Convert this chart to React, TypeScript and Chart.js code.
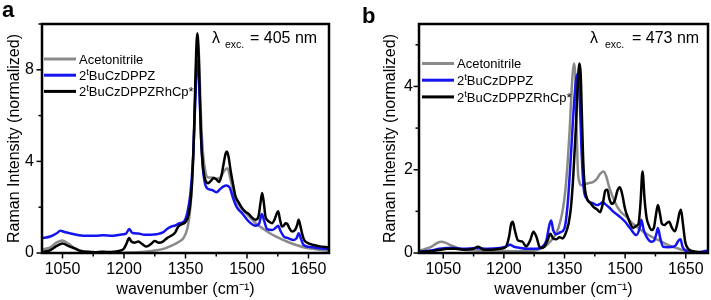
import React, { useEffect, useRef } from 'react';
import { Chart, registerables } from 'chart.js';

Chart.register(...registerables);

const FONT = "'Liberation Sans', Arial, Helvetica, sans-serif";

// ---------- axis ticks ----------
const X_MAJOR = [1050, 1200, 1350, 1500, 1650];
const X_MINOR = [1125, 1275, 1425, 1575];
const Y_TICKS_A = [0, 2, 4, 6, 8, 10];
const Y_LABELS_A = [0, 4, 8];
const Y_TICKS_B = [0, 1, 2, 3, 4, 5];
const Y_LABELS_B = [0, 2, 4];

// ---------- series names ----------
const NAMES = ['Acetonitrile', '2ᵗBuCzDPPZ', '2ᵗBuCzDPPZRhCp*'];
const COLORS = ['#8a8a8a', '#1414f0', '#000000'];

// ---------- panel a (405 nm) ----------
const A_GRAY_X = [1000,1020,1035,1050,1065,1080,1100,1130,1170,1210,1250,1280,1300,1320,1335,1345,1355,1362,1368,1373,1377,1380,1383,1387,1392,1398,1405,1415,1425,1435,1445,1452,1460,1470,1480,1490,1500,1520,1540,1560,1580,1600,1620,1640,1660,1680,1700];
const A_GRAY_Y = [0.15,0.25,0.45,0.55,0.4,0.2,0.08,0.02,0.0,0.02,0.06,0.12,0.2,0.35,0.5,0.65,1.1,2.0,3.8,6.5,8.6,9.2,8.6,6.3,4.5,3.6,3.3,3.3,3.25,3.3,3.6,3.7,3.2,2.45,2.1,1.88,1.7,1.32,1.05,0.82,0.64,0.48,0.35,0.24,0.18,0.13,0.1];

const A_BLUE_X = [1000,1020,1035,1045,1055,1070,1090,1110,1130,1150,1170,1190,1205,1213,1220,1235,1250,1265,1280,1295,1305,1315,1325,1335,1345,1355,1362,1368,1373,1377,1380,1383,1387,1392,1398,1405,1415,1425,1435,1442,1450,1458,1466,1475,1488,1504,1521,1530,1536,1542,1549,1561,1570,1576,1582,1590,1600,1614,1621,1626,1632,1638,1659,1683,1700];
const A_BLUE_Y = [0.65,0.72,0.85,0.97,0.92,0.85,0.78,0.75,0.75,0.78,0.75,0.8,0.85,1.05,0.88,0.85,0.8,0.8,0.82,0.9,1.05,1.15,1.2,1.3,1.35,1.8,2.6,4.0,6.2,7.9,8.4,7.6,5.5,3.8,3.0,2.8,2.75,2.65,2.8,2.9,2.95,2.85,2.4,2.0,1.74,1.38,1.19,1.3,1.7,1.4,1.04,1.0,1.1,1.19,0.95,0.72,0.65,0.57,0.65,0.86,0.6,0.35,0.25,0.2,0.18];

const A_BLACK_X = [1000,1020,1035,1050,1065,1080,1095,1110,1130,1145,1160,1175,1190,1200,1207,1212,1218,1225,1235,1245,1255,1265,1275,1285,1295,1305,1315,1325,1332,1340,1350,1358,1365,1370,1374,1377,1379,1381,1384,1388,1393,1398,1405,1412,1419,1426,1432,1438,1443,1448,1451,1455,1460,1466,1472,1480,1488,1496,1504,1512,1521,1528,1533,1537,1541,1545,1549,1555,1561,1567,1572,1576,1580,1585,1590,1594,1598,1603,1610,1617,1622,1626,1630,1635,1640,1650,1662,1675,1700];
const A_BLACK_Y = [0.05,0.12,0.3,0.42,0.3,0.2,0.08,0.05,0.03,0.06,0.04,0.05,0.1,0.2,0.45,0.65,0.5,0.45,0.5,0.38,0.28,0.38,0.52,0.45,0.5,0.65,0.75,0.9,1.15,1.25,1.35,1.7,2.8,4.8,7.5,9.2,9.6,9.2,7.5,5.0,3.7,3.2,3.05,3.15,3.28,3.2,3.1,3.4,3.9,4.35,4.43,4.2,3.6,3.0,2.47,2.2,1.96,1.8,1.71,1.55,1.45,1.6,2.2,2.62,2.2,1.6,1.45,1.35,1.3,1.45,1.7,1.82,1.5,1.16,1.2,1.3,1.28,1.1,0.94,1.0,1.2,1.45,1.2,0.8,0.55,0.42,0.35,0.3,0.25];

// ---------- panel b (473 nm) ----------
const B_GRAY_X = [990,1000,1020,1035,1045,1055,1070,1085,1100,1130,1160,1200,1240,1270,1290,1305,1315,1325,1335,1345,1352,1358,1363,1367,1371,1374,1377,1380,1383,1387,1392,1400,1410,1420,1430,1438,1446,1453,1460,1470,1480,1490,1503,1515,1530,1545,1560,1575,1586,1600,1615,1627,1640,1660,1680,1705];
const B_GRAY_Y = [0.05,0.08,0.15,0.24,0.27,0.25,0.18,0.12,0.08,0.06,0.05,0.05,0.04,0.05,0.1,0.18,0.28,0.4,0.6,1.0,1.5,2.2,3.0,3.8,4.4,4.55,4.2,3.0,2.0,1.7,1.63,1.65,1.68,1.7,1.78,1.9,1.96,1.85,1.6,1.33,1.12,0.98,0.87,0.74,0.62,0.51,0.42,0.34,0.29,0.22,0.16,0.12,0.08,0.05,0.03,0.03];

const B_BLUE_X = [990,1000,1020,1040,1060,1080,1100,1130,1160,1190,1205,1215,1225,1240,1260,1280,1295,1305,1312,1317,1322,1330,1340,1350,1358,1365,1371,1376,1380,1384,1388,1392,1397,1405,1413,1420,1430,1438,1444,1450,1462,1470,1487,1500,1512,1528,1536,1540,1546,1553,1565,1572,1577,1581,1587,1594,1605,1619,1626,1632,1637,1642,1651,1665,1684,1695,1705];
const B_BLUE_Y = [0.03,0.04,0.06,0.1,0.12,0.12,0.1,0.12,0.1,0.12,0.15,0.2,0.15,0.12,0.1,0.1,0.15,0.3,0.65,0.78,0.55,0.45,0.5,0.6,1.2,2.2,3.2,3.9,4.25,4.3,3.6,2.5,1.6,1.3,1.22,1.2,1.15,1.18,1.22,1.18,1.08,1.0,0.87,0.75,0.6,0.43,0.6,0.8,0.55,0.39,0.27,0.3,0.45,0.6,0.35,0.15,0.14,0.15,0.2,0.3,0.33,0.15,0.05,0.02,0.02,0.04,0.06];

const B_BLACK_X = [990,1000,1020,1040,1060,1080,1100,1120,1137,1150,1170,1190,1205,1213,1218,1222,1227,1235,1245,1255,1265,1273,1280,1290,1300,1308,1315,1322,1330,1338,1345,1352,1360,1366,1372,1378,1383,1387,1390,1393,1396,1400,1406,1414,1422,1430,1438,1445,1451,1456,1461,1467,1474,1481,1487,1493,1500,1507,1514,1520,1527,1533,1538,1543,1548,1553,1558,1565,1571,1576,1581,1586,1591,1597,1603,1609,1615,1623,1630,1634,1638,1643,1649,1656,1665,1680,1705];
const B_BLACK_Y = [0.02,0.03,0.05,0.07,0.1,0.1,0.08,0.09,0.15,0.08,0.08,0.1,0.15,0.4,0.7,0.75,0.55,0.3,0.28,0.16,0.3,0.51,0.4,0.12,0.15,0.3,0.46,0.35,0.33,0.38,0.35,0.45,0.7,1.1,1.9,3.0,4.1,4.55,4.3,3.3,2.3,1.6,1.3,1.2,1.1,1.05,0.98,1.2,1.5,1.52,1.3,1.18,1.25,1.5,1.58,1.4,1.05,0.85,0.68,0.6,0.65,0.7,1.2,1.96,1.3,0.85,0.68,0.55,0.6,0.9,1.15,0.95,0.7,0.67,0.72,0.75,0.62,0.52,0.75,0.95,1.04,0.7,0.25,0.1,0.05,0.02,0.0];

const pts = (xs: number[], ys: number[]) => xs.map((x, i) => ({ x, y: ys[i] }));

type PanelDef = {
  letter: string; letterX: number; letterY: number;
  exc: number; excDx: number; excGap: number; excGap2: number;
  xMin: number; xMax: number; yMax: number;
  yTicks: number[]; yLabels: number[];
  data: { x: number[]; y: number[] }[];
  yAxisWidth: number; padRight: number; yTitlePad: number; yTickPad: number;
  legX: number; legY: number; legStep: number;
};

const PANEL_A: PanelDef = {
  letter: 'a', letterX: 2, letterY: 17,
  exc: 405, excDx: 117, excGap: 13, excGap2: 38,
  xMin: 1000, xMax: 1700, yMax: 10,
  yTicks: Y_TICKS_A, yLabels: Y_LABELS_A,
  data: [{ x: A_GRAY_X, y: A_GRAY_Y }, { x: A_BLUE_X, y: A_BLUE_Y }, { x: A_BLACK_X, y: A_BLACK_Y }],
  yAxisWidth: 42, padRight: 26, yTitlePad: 5, yTickPad: 8,
  legX: 2, legY: 35, legStep: 16.2,
};

const PANEL_B: PanelDef = {
  letter: 'b', letterX: 7, letterY: 23,
  exc: 473, excDx: 118, excGap: 15, excGap2: 42,
  xMin: 990, xMax: 1705, yMax: 5.5,
  yTicks: Y_TICKS_B, yLabels: Y_LABELS_B,
  data: [{ x: B_GRAY_X, y: B_GRAY_Y }, { x: B_BLUE_X, y: B_BLUE_Y }, { x: B_BLACK_X, y: B_BLACK_Y }],
  yAxisWidth: 64, padRight: 3, yTitlePad: 26, yTickPad: 6,
  legX: 3, legY: 39.5, legStep: 16.7,
};

function drawName(ctx: CanvasRenderingContext2D, name: string, x: number, y: number, size: number) {
  // renders the modifier letter ᵗ as a raised small t
  const parts = name.split('ᵗ');
  let cx = x;
  parts.forEach((p, i) => {
    if (i > 0) {
      ctx.font = `${size * 0.72}px ${FONT}`;
      ctx.fillText('t', cx, y - size * 0.38);
      cx += ctx.measureText('t').width;
    }
    ctx.font = `${size}px ${FONT}`;
    ctx.fillText(p, cx, y);
    cx += ctx.measureText(p).width;
  });
}

const decorPlugin = {
  id: 'decor',
  afterDraw(chart: any, _args: any, opts: any) {
    const p: PanelDef = opts.panel;
    if (!p) return;
    const ctx: CanvasRenderingContext2D = chart.ctx;
    const a = chart.chartArea;
    const xs = chart.scales.x;
    const ys = chart.scales.y;
    ctx.save();
    ctx.strokeStyle = '#000';
    ctx.fillStyle = '#000';
    ctx.lineWidth = 1.5;
    const xt = [...X_MAJOR, ...X_MINOR];
    for (const v of xt) {
      const px = xs.getPixelForValue(v);
      const len = X_MAJOR.includes(v) ? 5.5 : 3.5;
      ctx.beginPath();
      ctx.moveTo(px, a.bottom);
      ctx.lineTo(px, a.bottom + len);
      ctx.stroke();
    }
    for (const v of p.yTicks) {
      const py = ys.getPixelForValue(v);
      const len = p.yLabels.includes(v) ? 5.5 : 3.5;
      ctx.beginPath();
      ctx.moveTo(a.left, py);
      ctx.lineTo(a.left - len, py);
      ctx.stroke();
    }
    // frame
    ctx.lineWidth = 2.5;
    ctx.strokeRect(a.left, a.top, a.right - a.left, a.bottom - a.top);

    // legend
    const lsize = 13;
    NAMES.forEach((name, i) => {
      const y = a.top + p.legY + i * p.legStep;
      ctx.strokeStyle = COLORS[i];
      ctx.lineWidth = 3;
      ctx.beginPath();
      ctx.moveTo(a.left + p.legX, y);
      ctx.lineTo(a.left + p.legX + 32, y);
      ctx.stroke();
      ctx.fillStyle = '#000';
      ctx.textBaseline = 'alphabetic';
      ctx.textAlign = 'left';
      drawName(ctx, name, a.left + p.legX + 35, y + 4.8, lsize);
    });

    // excitation annotation
    const lx = a.right - p.excDx;
    const by = a.top + 19;
    ctx.fillStyle = '#000';
    ctx.font = `16px ${FONT}`;
    ctx.fillText('λ', lx, by);
    ctx.font = `10.5px ${FONT}`;
    ctx.fillText('exc.', lx + p.excGap, by + 4.5);
    ctx.font = `16px ${FONT}`;
    ctx.fillText(`= ${p.exc} nm`, lx + p.excGap2, by);

    // panel letter
    ctx.font = `bold 22px ${FONT}`;
    ctx.fillText(p.letter, p.letterX, p.letterY);
    ctx.restore();
  },
};

function buildConfig(p: PanelDef): any {
  const font = { family: FONT, size: 16 };
  const titleFont = { family: FONT, size: 16 };
  return {
    type: 'line',
    data: {
      datasets: p.data.map((d, i) => ({
        label: NAMES[i],
        data: pts(d.x, d.y),
        borderColor: COLORS[i],
        backgroundColor: COLORS[i],
        borderWidth: 2.5,
        pointRadius: 0,
        fill: false,
        cubicInterpolationMode: 'monotone',
        order: 2 - i,
      })),
    },
    options: {
      animation: false,
      responsive: false,
      maintainAspectRatio: false,
      events: [],
      layout: { padding: { top: 24, right: p.padRight, left: 0, bottom: 0 } },
      plugins: {
        legend: { display: false },
        tooltip: { enabled: false },
        decor: { panel: p },
      },
      scales: {
        x: {
          type: 'linear',
          min: p.xMin,
          max: p.xMax,
          afterBuildTicks: (s: any) => { s.ticks = [...X_MAJOR, ...X_MINOR].sort((m, n) => m - n).map((v) => ({ value: v })); },
          afterFit: (s: any) => { s.height = 47; },
          grid: { display: false, drawTicks: false },
          border: { display: false },
          ticks: {
            autoSkip: false, maxRotation: 0, padding: 7, color: '#000', font,
            callback: (v: number) => (X_MAJOR.includes(v) ? String(v) : ''),
          },
          title: {
            display: true, text: 'wavenumber (cm⁻¹)', color: '#000', font: titleFont,
            padding: { top: 0, bottom: 1 },
          },
        },
        y: {
          type: 'linear',
          min: 0,
          max: p.yMax,
          afterBuildTicks: (s: any) => { s.ticks = p.yTicks.map((v) => ({ value: v })); },
          afterFit: (s: any) => { s.width = p.yAxisWidth; },
          grid: { display: false, drawTicks: false },
          border: { display: false },
          ticks: {
            autoSkip: false, padding: p.yTickPad, color: '#000', font,
            callback: (v: number) => (p.yLabels.includes(v) ? String(v) : ''),
          },
          title: {
            display: true, text: 'Raman Intensity (normalized)', color: '#000', font: titleFont,
            padding: { top: p.yTitlePad, bottom: 0 },
          },
        },
      },
    },
    plugins: [decorPlugin],
  };
}

function Panel({ def, left, width }: { def: PanelDef; left: number; width: number }) {
  const ref = useRef<HTMLCanvasElement>(null);
  useEffect(() => {
    const chart = new Chart(ref.current as HTMLCanvasElement, buildConfig(def));
    return () => chart.destroy();
  }, [def]);
  return (
    <canvas
      ref={ref}
      width={width}
      height={300}
      style={{ position: 'absolute', left, top: 0, width, height: 300, display: 'block' }}
    />
  );
}

export default function App() {
  return (
    <div style={{ position: 'absolute', left: 0, top: 0, width: 711, height: 300, background: '#fff', overflow: 'hidden' }}>
      <Panel def={PANEL_A} left={0} width={355} />
      <Panel def={PANEL_B} left={355} width={356} />
    </div>
  );
}
